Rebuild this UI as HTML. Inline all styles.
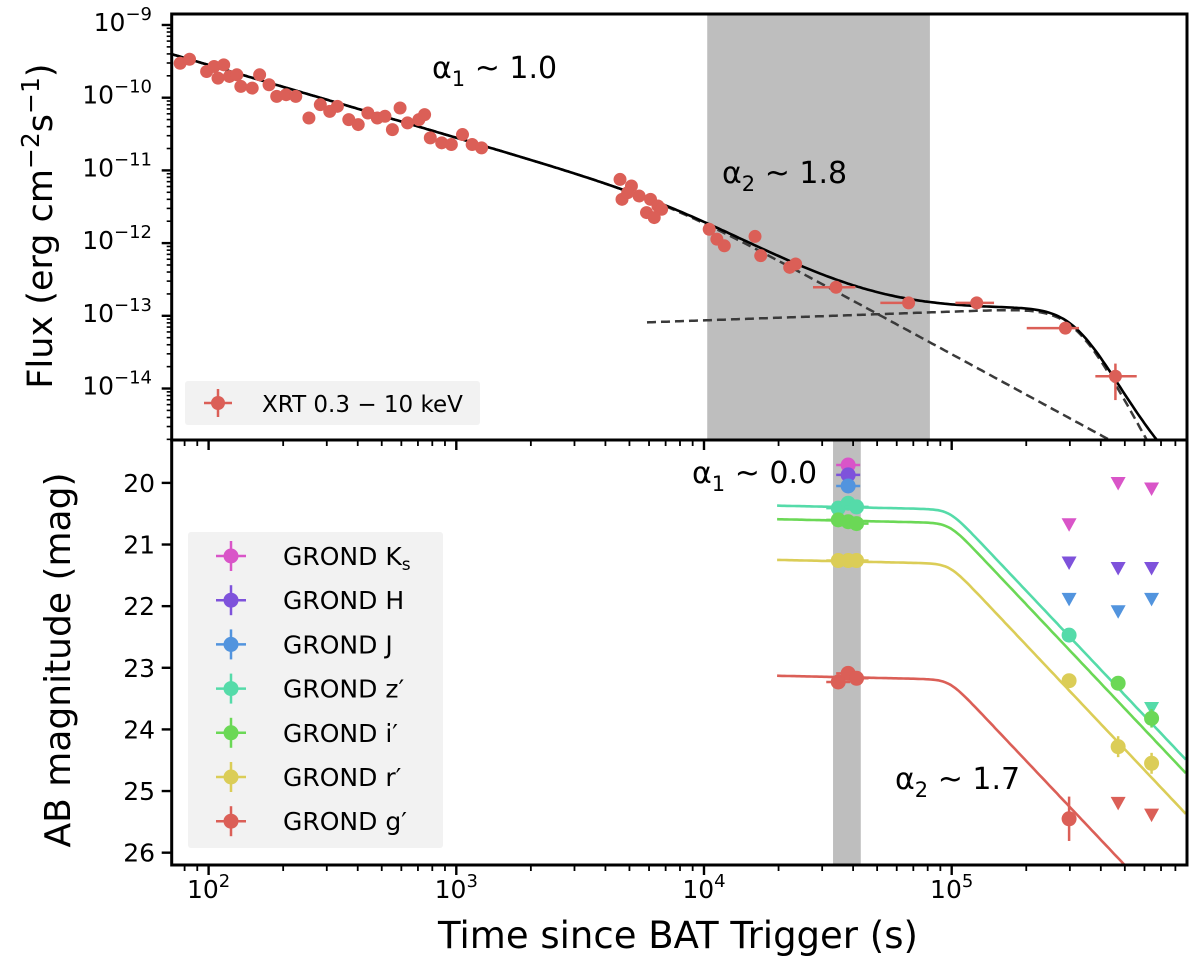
<!DOCTYPE html>
<html><head><meta charset="utf-8"><style>
html,body{margin:0;padding:0;background:#fff}
svg{display:block;font-family:"DejaVu Sans","Liberation Sans",sans-serif}
</style></head><body>
<svg id="chart" width="1200" height="966" viewBox="0 0 1200 966">
<defs>
<clipPath id="clipTop"><rect x="171.7" y="14" width="1015.3" height="426"/></clipPath>
<clipPath id="clipBot"><rect x="171.7" y="440" width="1015.3" height="425"/></clipPath>
</defs>
<g id="top"></g>
<g id="bot"></g>
<g id="frames"></g>
</svg>
<script>
// ---------- DATA ----------
const xrtLogTime = [1.885,1.923,1.992,2.022,2.061,2.038,2.084,2.114,2.130,2.176,2.206,2.244,2.275,2.313,2.352,2.405,2.451,2.489,2.520,2.566,2.604,2.643,2.681,2.712,2.742,2.773,2.803,2.849,2.872,2.895,2.941,2.980,3.025,3.064,3.102,
3.661,3.707,3.669,3.738,3.784,3.814,3.768,3.829,3.799,3.692,4.021,4.052,4.082,4.206,4.229,4.346,4.370,4.533,4.826,5.101,5.459,5.661];
const xrtLogFlux = [-9.526,-9.471,-9.640,-9.571,-9.548,-9.731,-9.708,-9.685,-9.845,-9.868,-9.685,-9.822,-9.982,-9.959,-9.982,-10.279,-10.096,-10.188,-10.119,-10.302,-10.370,-10.211,-10.279,-10.256,-10.439,-10.142,-10.347,-10.302,-10.233,-10.553,-10.621,-10.644,-10.507,-10.644,-10.690,
-11.124,-11.215,-11.398,-11.352,-11.398,-11.489,-11.580,-11.535,-11.649,-11.306,-11.809,-11.946,-12.037,-11.908,-12.173,-12.333,-12.287,-12.607,-12.822,-12.822,-13.169,-13.831];
const xrtErrLo = [4.440,4.712,5.015,5.303,5.58];
const xrtErrHi = [4.611,4.852,5.171,5.514,5.747];
const xrtErrIdx = [52,53,54,55,56];
const fitPL = [-11.40, 3.85, 1.0, 1.85, 3];
const fitPlateau = [-13.09, 3.77, 0.12, 5.498, 6.4];
const xrtShade = [4.013, 4.912];

const bands = ["Ks","H","J","z′","i′","r′","g′"];
const bandColors = ["#d955c8","#7e52db","#5294de","#55dba9","#6bd856","#dbcd57","#db5f57"];
const optLogTime = {
 "Ks":[4.582],"H":[4.582],"J":[4.582],
 "z′":[4.542,4.582,4.616,5.474],
 "i′":[4.542,4.582,4.616,5.672,5.807],
 "r′":[4.542,4.582,4.616,5.474,5.672,5.807],
 "g′":[4.542,4.582,4.616,5.474]};
const optMag = {
 "Ks":[19.71],"H":[19.87],"J":[20.05],
 "z′":[20.41,20.33,20.39,22.47],
 "i′":[20.60,20.63,20.66,23.25,23.82],
 "r′":[21.26,21.26,21.26,23.21,24.28,24.55],
 "g′":[23.23,23.09,23.17,25.45]};
const optMagErr = {"Ks":[0.04],"H":[0.04],"J":[0.04],"z′":[0.05,0.05,0.05,0.08],"i′":[0.05,0.05,0.05,0.1,0.15],"r′":[0.04,0.04,0.04,0.08,0.17,0.17],"g′":[0.08,0.08,0.08,0.36]};
const limLogTime = {"Ks":[5.474,5.672,5.807],"H":[5.474,5.672,5.807],"J":[5.474,5.672,5.807],"z′":[5.807],"g′":[5.672,5.807]};
const limMag = {"Ks":[20.68,20.01,20.10],"H":[21.30,21.39,21.39],"J":[21.89,22.09,21.89],"z′":[23.66],"g′":[25.20,25.39]};
const fitBands = ["z′","i′","r′","g′"];
const fitBreakMag = [20.43,20.65,21.31,23.19];
const optFit = [4.99, 0.035, 1.7, 10, 4.295];
const optShade = [4.521, 4.633];

// ---------- AXES ----------
const X0=171.7, X1=1187, LT0=1.851, LT1=5.950;
const xs = lt => X0 + (lt-LT0)/(LT1-LT0)*(X1-X0);
const TY0=14, TY1=440, LF0=-8.849, LF1=-14.708;
const ys = lf => TY0 + (lf-LF0)/(LF1-LF0)*(TY1-TY0);
const BY0=440, BY1=865, M0=19.304, M1=26.20;
const ym = m => BY0 + (m-M0)/(M1-M0)*(BY1-BY0);

const NS="http://www.w3.org/2000/svg";
function mk(parent,tag,attrs){const e=document.createElementNS(NS,tag);for(const k in attrs)e.setAttribute(k,attrs[k]);parent.appendChild(e);return e;}
const topG=document.getElementById('top'), botG=document.getElementById('bot'), fr=document.getElementById('frames');

// ---------- TOP PANEL ----------
const tClip=mk(topG,'g',{'clip-path':'url(#clipTop)'});
let sh=mk(tClip,'rect',{x:xs(xrtShade[0]),y:TY0,width:xs(xrtShade[1])-xs(xrtShade[0]),height:TY1-TY0,fill:'#bebebe'});


function f1(lt){const[lb,ltb,a1,a2,s]=fitPL;const r=Math.pow(10,lt-ltb);return Math.pow(10,lb)*Math.pow(Math.pow(r,a1*s)+Math.pow(r,a2*s),-1/s);}
function f2(lt){const[l0,lt0,sl,ltc,k]=fitPlateau;return Math.pow(10,l0+sl*(lt-lt0)-Math.log10(1+Math.pow(10,k*(lt-ltc))));}
function pathFrom(fn,a,b){let d='';for(let lt=a;lt<=b+1e-9;lt+=0.01){d+=(d?'L':'M')+xs(lt).toFixed(1)+','+ys(Math.log10(fn(lt))).toFixed(1);}return d;}
let p=mk(tClip,'path',{d:pathFrom(f1,LT0,LT1),fill:'none',stroke:'#3a3a3a','stroke-width':2.5,'stroke-dasharray':'9,5'});


p=mk(tClip,'path',{d:pathFrom(f2,fitPlateau[1],LT1),fill:'none',stroke:'#3a3a3a','stroke-width':2.5,'stroke-dasharray':'9,5'});


p=mk(tClip,'path',{d:pathFrom(lt=>f1(lt)+(lt>=fitPlateau[1]?f2(lt):0),LT0,LT1),fill:'none',stroke:'#000','stroke-width':2.6});


for(let j=0;j<xrtErrIdx.length;j++){const i=xrtErrIdx[j];
 const l=mk(tClip,'line',{x1:xs(xrtErrLo[j]),x2:xs(xrtErrHi[j]),y1:ys(xrtLogFlux[i]),y2:ys(xrtLogFlux[i]),stroke:'#db5f57','stroke-width':2.5});
 
 }
{const i=56;const l=mk(tClip,'line',{x1:xs(xrtLogTime[i]),x2:xs(xrtLogTime[i]),y1:ys(-13.657),y2:ys(-14.159),stroke:'#db5f57','stroke-width':2.5});
 
 }
for(let i=0;i<xrtLogTime.length;i++){
 const c=mk(tClip,'circle',{cx:xs(xrtLogTime[i]),cy:ys(xrtLogFlux[i]),r:6.5,fill:'#db5f57'});
 
 }
function label(parent,x,y,sub,val,name){const t=mk(parent,'text',{x:x,y:y,'font-size':30,fill:'#000'});t.innerHTML='α<tspan font-size="21" dy="8">'+sub+'</tspan><tspan dy="-8"> ~ '+val+'</tspan>';
 }
label(topG,432,78,'1','1.0','alpha1-xray-label');
label(topG,722,183,'2','1.8','alpha2-xray-label');
let lg=mk(topG,'g',{});


mk(lg,'rect',{x:185,y:381,width:295,height:44,fill:'#f2f2f2',rx:3});
mk(lg,'line',{x1:204,x2:232,y1:403,y2:403,stroke:'#db5f57','stroke-width':2.5});
mk(lg,'line',{x1:218,x2:218,y1:389,y2:417,stroke:'#db5f57','stroke-width':2.5});
mk(lg,'circle',{cx:218,cy:403,r:7,fill:'#db5f57'});
let tt=mk(lg,'text',{x:262,y:412,'font-size':23});tt.textContent='XRT 0.3 − 10 keV';

// ---------- BOTTOM PANEL ----------
const bClip=mk(botG,'g',{'clip-path':'url(#clipBot)'});
sh=mk(bClip,'rect',{x:xs(optShade[0]),y:BY0,width:xs(optShade[1])-xs(optShade[0]),height:BY1-BY0,fill:'#bebebe'});


function magModel(lt,mb){const[ltb,a1,a2,s]=optFit;const r=lt-ltb;return mb+2.5*a1*r+2.5/s*Math.log10(1+Math.pow(10,(a2-a1)*s*r));}
fitBands.forEach((b,k)=>{let d='';for(let lt=optFit[4];lt<=LT1+1e-9;lt+=0.01){d+=(d?'L':'M')+xs(lt).toFixed(1)+','+ym(magModel(lt,fitBreakMag[k])).toFixed(1);}
 const pl=mk(bClip,'path',{d:d,fill:'none',stroke:bandColors[bands.indexOf(b)],'stroke-width':2.6});
 
 });
bands.forEach((b,k)=>{const col=bandColors[k];
 (optLogTime[b]||[]).forEach((lt,i)=>{const m=optMag[b][i],e=optMagErr[b][i];
  const el=mk(bClip,'line',{x1:xs(lt),x2:xs(lt),y1:ym(m-e),y2:ym(m+e),stroke:col,'stroke-width':2.5});
  
  
  if(i<3 && lt<5){const eh=mk(bClip,'line',{x1:xs(lt)-12,x2:xs(lt)+12,y1:ym(m),y2:ym(m),stroke:col,'stroke-width':2.5});
   
   }
  const c=mk(bClip,'circle',{cx:xs(lt),cy:ym(m),r:7.5,fill:col});
  
  });
 (limLogTime[b]||[]).forEach((lt,i)=>{const x=xs(lt),y=ym(limMag[b][i]);
  const tr=mk(bClip,'polygon',{points:`${x-7.5},${y-6.5} ${x+7.5},${y-6.5} ${x},${y+7}`,fill:col});
  
  });
});
label(botG,692,483,'1','0.0','alpha1-optical-label');
label(botG,895,789,'2','1.7','alpha2-optical-label');
lg=mk(botG,'g',{});


mk(lg,'rect',{x:188,y:532,width:255,height:316,fill:'#f2f2f2',rx:3});
bands.forEach((b,k)=>{const y=556+k*44.2,col=bandColors[k];
 const g=mk(lg,'g',{});
 
 
 mk(g,'line',{x1:216,x2:246,y1:y,y2:y,stroke:col,'stroke-width':2.5});
 mk(g,'line',{x1:231,x2:231,y1:y-15,y2:y+15,stroke:col,'stroke-width':2.5});
 mk(g,'circle',{cx:231,cy:y,r:7.5,fill:col});
 const t=mk(g,'text',{x:283,y:y+9,'font-size':25});
 if(b==='Ks'){t.innerHTML='GROND K<tspan font-size="17" dy="5">s</tspan>';} else t.textContent='GROND '+b;
});

// ---------- FRAMES & TICKS ----------
function frame(y0,y1,name){const r=mk(fr,'rect',{x:X0,y:y0,width:X1-X0,height:y1-y0,fill:'none',stroke:'#000','stroke-width':3});
 }
frame(TY0,TY1,'xray-frame');frame(BY0,BY1,'optical-frame');
function xticks(yb){for(let d=1;d<=5;d++)for(let m=1;m<=9;m++){const lt=d+Math.log10(m);if(lt<LT0||lt>LT1)continue;const x=xs(lt);
 mk(fr,'line',{x1:x,x2:x,y1:yb,y2:yb+(m===1?10:6),stroke:'#000','stroke-width':m===1?2.4:1.8});}}
xticks(TY1);xticks(BY1);
const xTickLabels=[2,3,4,5];
xTickLabels.forEach(e=>{const t=mk(fr,'text',{x:xs(e),y:898,'font-size':25,'text-anchor':'middle'});t.innerHTML='10<tspan font-size="18" dy="-11">'+e+'</tspan>';
 });
for(let d=-15;d<=-9;d++)for(let m=1;m<=9;m++){const lf=d+Math.log10(m);if(lf>LF0||lf<LF1)continue;const y=ys(lf);
 mk(fr,'line',{x1:X0,x2:X0-(m===1?10:5),y1:y,y2:y,stroke:'#000','stroke-width':m===1?2.4:1.6});}
const yTopLabels=[-9,-10,-11,-12,-13,-14];
yTopLabels.forEach(e=>{const t=mk(fr,'text',{x:152,y:ys(e)+6,'font-size':25,'text-anchor':'end'});
 t.innerHTML='10<tspan font-size="18" dy="-11">−'+(-e)+'</tspan>';
 });
const yBotLabels=[20,21,22,23,24,25,26];
yBotLabels.forEach(m=>{const y=ym(m);mk(fr,'line',{x1:X0,x2:X0-10,y1:y,y2:y,stroke:'#000','stroke-width':2.4});
 const t=mk(fr,'text',{x:155,y:y+9,'font-size':25,'text-anchor':'end'});t.textContent=m;
 });
let at=mk(fr,'text',{x:678,y:948,'font-size':37,'text-anchor':'middle'});at.textContent='Time since BAT Trigger (s)';

at=mk(fr,'text',{x:0,y:0,'font-size':35,'text-anchor':'middle',transform:'translate(52,226) rotate(-90)'});at.innerHTML='Flux (erg cm<tspan font-size="25" dy="-13">−2</tspan><tspan dy="13">s</tspan><tspan font-size="25" dy="-13">−1</tspan><tspan dy="13">)</tspan>';

at=mk(fr,'text',{x:0,y:0,'font-size':36,'text-anchor':'middle',transform:'translate(70,660) rotate(-90)'});at.textContent='AB magnitude (mag)';

</script>
</body></html>
